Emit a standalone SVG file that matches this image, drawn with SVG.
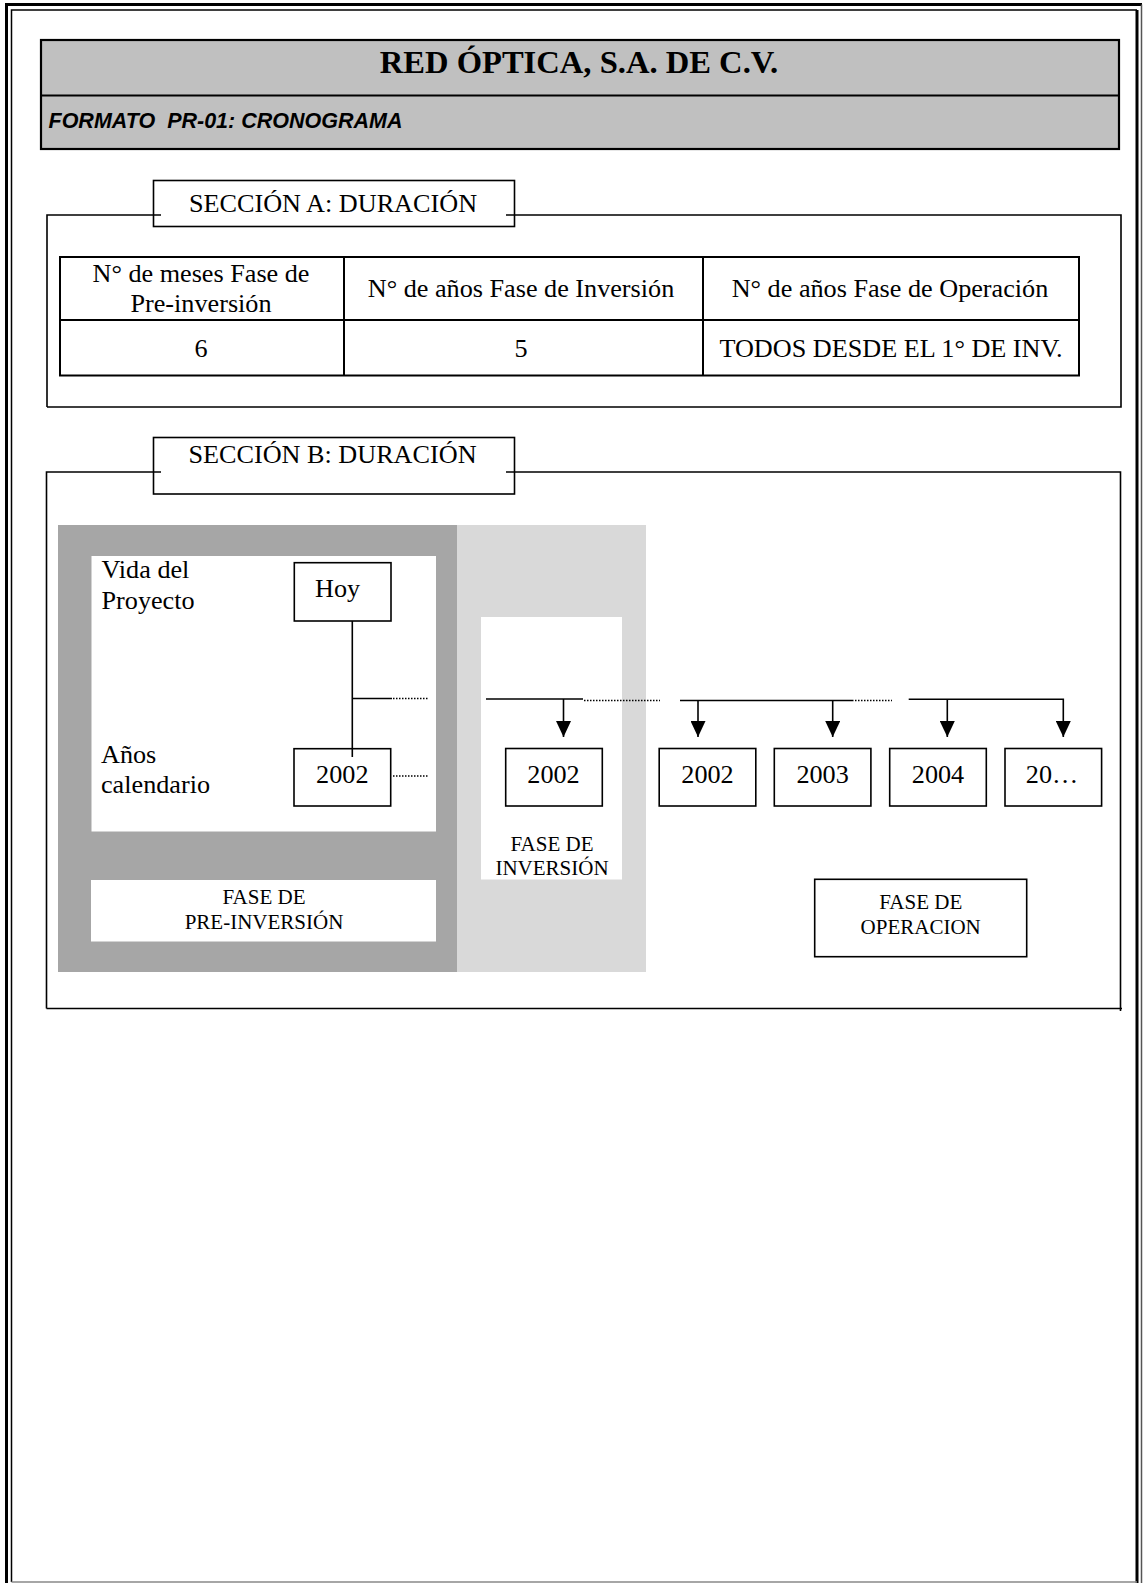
<svg xmlns="http://www.w3.org/2000/svg" width="1144" height="1583" viewBox="0 0 1144 1583">
<style>
.t{font-family:"Liberation Serif","Times New Roman",serif;font-size:26.2px;fill:#000}
.ts{font-size:21px}
.mid{text-anchor:middle}
.box{fill:#fff;stroke:#000;stroke-width:1.6}
.frame{fill:none;stroke:#000;stroke-width:1.6}
.ln{fill:none;stroke:#000;stroke-width:1.6}
.dot{fill:none;stroke:#000;stroke-width:1.3;stroke-dasharray:1.5 1.5}
.tbl{fill:none;stroke:#000;stroke-width:2}
</style>
<defs>
<marker id="ah" viewBox="0 0 16 15" markerWidth="16" markerHeight="15" refX="16" refY="7.5" orient="auto" markerUnits="userSpaceOnUse">
<path d="M0,0 L16,7.5 L0,15 z" fill="#000"/>
</marker>
</defs>
<rect x="0" y="0" width="1144" height="1583" fill="#fff"/>

<g id="page-border">
<path d="M6.5,1583 V4.5 H1142" fill="none" stroke="#000" stroke-width="3"/>
<path d="M1137,10 V1583" fill="none" stroke="#000" stroke-width="3"/>
<path d="M11.5,1582 V10 H1137" fill="none" stroke="#000" stroke-width="1.5"/>
<path d="M1141.5,4.5 V1583" fill="none" stroke="#555" stroke-width="1.5"/>
<path d="M11.5,1582 H1137" fill="none" stroke="#888" stroke-width="1.5"/>
</g>

<g id="header">
<rect x="41" y="40" width="1078" height="109" fill="#c0c0c0" stroke="#000" stroke-width="2.2"/>
<line x1="41" y1="95.5" x2="1119" y2="95.5" stroke="#000" stroke-width="2"/>
<text x="579" y="73" class="mid" style="font-family:'Liberation Serif','Times New Roman',serif;font-weight:bold;font-size:32.6px">RED ÓPTICA, S.A. DE C.V.</text>
<text x="48.5" y="128" style="font-family:'Liberation Sans',Arial,sans-serif;font-weight:bold;font-style:italic;font-size:21.5px;white-space:pre" xml:space="preserve">FORMATO  PR-01: CRONOGRAMA</text>
</g>

<g id="section-a">
<path class="frame" d="M47,407 V215 H161 M506,215 H1121 V407 H47"/>
<g id="label-a">
<rect class="box" x="153.5" y="180.5" width="361" height="46" style="fill:none"/>
<text class="t mid" x="333" y="212">SECCIÓN A: DURACIÓN</text>
</g>
<g id="table-a">
<rect class="tbl" x="60" y="257" width="1019" height="118.5"/>
<line class="tbl" x1="60" y1="320" x2="1079" y2="320"/>
<line class="tbl" x1="344" y1="257" x2="344" y2="375.5"/>
<line class="tbl" x1="703" y1="257" x2="703" y2="375.5"/>
<text class="t mid" x="201" y="282">N° de meses Fase de</text>
<text class="t mid" x="201" y="312">Pre-inversión</text>
<text class="t mid" x="521" y="297">N° de años Fase de Inversión</text>
<text class="t mid" x="890" y="297">N° de años Fase de Operación</text>
<text class="t mid" x="201" y="357">6</text>
<text class="t mid" x="521" y="357">5</text>
<text class="t mid" x="891" y="357">TODOS DESDE EL 1° DE INV.</text>
</g>
</g>

<g id="section-b">
<path class="frame" d="M46.5,1008.5 V472 H161 M506,472 H1120.5 V1011 M46.5,1008.5 H1122"/>
<g id="label-b">
<rect class="box" x="153.5" y="437.5" width="361" height="56.5" style="fill:none"/>
<text class="t mid" x="332.5" y="463">SECCIÓN B: DURACIÓN</text>
</g>
</g>

<g id="fase-preinversion">
<rect x="58" y="525" width="399" height="447" fill="#a6a6a6"/>
<rect x="91.5" y="556" width="344.5" height="275.5" fill="#fff"/>
<rect x="91" y="880" width="345" height="61.5" fill="#fff"/>
<text class="t ts mid" x="264" y="904">FASE DE</text>
<text class="t ts mid" x="264" y="929">PRE-INVERSIÓN</text>
</g>

<g id="fase-inversion">
<rect x="457" y="525" width="189" height="447" fill="#d9d9d9"/>
<rect x="481" y="617" width="141" height="262.5" fill="#fff"/>
<text class="t ts mid" x="552" y="851">FASE DE</text>
<text class="t ts mid" x="552" y="874.5">INVERSIÓN</text>
</g>

<g id="labels">
<text class="t" x="101.5" y="578">Vida del</text>
<text class="t" x="101.5" y="609">Proyecto</text>
<text class="t" x="101" y="763">Años</text>
<text class="t" x="101" y="793">calendario</text>
</g>

<g id="connectors">
<line class="ln" x1="352.3" y1="621" x2="352.3" y2="757"/>
<line class="ln" x1="352.3" y1="698.5" x2="392" y2="698.5"/>
<line class="dot" x1="393" y1="698.5" x2="428" y2="698.5"/>
<line class="dot" x1="393" y1="776" x2="428" y2="776"/>
<line class="ln" x1="486" y1="699" x2="583" y2="699"/>
<line class="ln" x1="563.5" y1="699" x2="563.5" y2="737" marker-end="url(#ah)"/>
<line class="dot" x1="584" y1="700.5" x2="660" y2="700.5"/>
<line class="ln" x1="680" y1="700.5" x2="853.5" y2="700.5"/>
<line class="ln" x1="698" y1="700.5" x2="698" y2="737" marker-end="url(#ah)"/>
<line class="ln" x1="832.7" y1="700.5" x2="832.7" y2="737" marker-end="url(#ah)"/>
<line class="dot" x1="855" y1="700.5" x2="892" y2="700.5"/>
<path class="ln" d="M908.7,699.3 H1063.3 V737" marker-end="url(#ah)"/>
<line class="ln" x1="947.3" y1="699.3" x2="947.3" y2="737" marker-end="url(#ah)"/>
</g>

<g id="hoy">
<rect class="box" x="294.3" y="562.7" width="96.7" height="58.3"/>
<text class="t" x="315" y="597">Hoy</text>
</g>
<g id="anio-pre-2002">
<rect class="box" x="294" y="748.7" width="96.7" height="57.3"/>
<text class="t mid" x="342.3" y="783">2002</text>
</g>
<line class="ln" x1="352.3" y1="748.7" x2="352.3" y2="757"/>
<g id="anio-inv-2002">
<rect class="box" x="505.7" y="748.5" width="96.6" height="57.5"/>
<text class="t mid" x="553.5" y="783">2002</text>
</g>
<g id="anio-op-2002">
<rect class="box" x="659.2" y="748.5" width="96.6" height="57.5"/>
<text class="t mid" x="707.5" y="783">2002</text>
</g>
<g id="anio-op-2003">
<rect class="box" x="774.3" y="748.5" width="96.6" height="57.5"/>
<text class="t mid" x="822.6" y="783">2003</text>
</g>
<g id="anio-op-2004">
<rect class="box" x="889.7" y="748.5" width="96.6" height="57.5"/>
<text class="t mid" x="938" y="783">2004</text>
</g>
<g id="anio-op-20xx">
<rect class="box" x="1005" y="748.5" width="96.6" height="57.5"/>
<text class="t mid" x="1052" y="783">20…</text>
</g>
<g id="fase-operacion">
<rect class="box" x="814.7" y="879.3" width="212" height="77.4"/>
<text class="t ts mid" x="920.7" y="909.3">FASE DE</text>
<text class="t ts mid" x="920.7" y="934">OPERACION</text>
</g>
</svg>
